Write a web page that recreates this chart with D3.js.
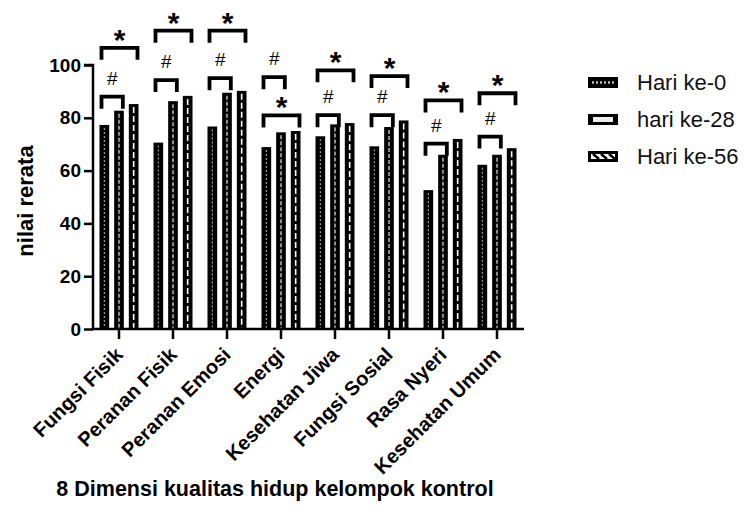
<!DOCTYPE html>
<html>
<head>
<meta charset="utf-8">
<script src="https://cdn.jsdelivr.net/npm/d3@7"></script>
<style>
  body { margin: 0; background: #fff; }
  svg { display: block; font-family: "Liberation Sans", Arial, sans-serif; }
</style>
</head>
<body>
<svg id="chart" width="746" height="524"></svg>
<script>
const categories = ["Fungsi Fisik", "Peranan Fisik", "Peranan Emosi", "Energi",
  "Kesehatan Jiwa", "Fungsi Sosial", "Rasa Nyeri", "Kesehatan Umum"];
const seriesNames = ["Hari ke-0", "hari ke-28", "Hari ke-56"];
const hari0  = [77.3, 70.6, 76.7, 68.9, 73.0, 69.2, 52.6, 62.2];
const hari28 = [82.7, 86.3, 89.5, 74.5, 77.5, 76.5, 66.0, 66.0];
const hari56 = [85.2, 88.3, 90.2, 75.0, 78.0, 79.0, 72.0, 68.5];
const yTicks = [0, 20, 40, 60, 80, 100];
// significance brackets: level (in data units) of "#" (0 vs 28) and "*" (0 vs 56)
const hashLevel = [88.0, 94.3, 95.0, 95.4, 81.0, 81.0, 70.2, 72.9];
const starLevel = [106.5, 113.0, 113.0, 80.9, 98.0, 95.8, 86.6, 89.3];
const yTitle = "nilai rerata";
const xTitle = "8 Dimensi kualitas hidup kelompok kontrol";

const svg = d3.select("#chart");
const y = d3.scaleLinear().domain([0, 100]).range([329, 65]);
const x0 = d3.scaleBand().domain(categories).range([92, 524]).padding(0);
const x1 = d3.scaleBand().domain(seriesNames).range([7.5, 46.5]).paddingInner(0.34);

const series = [hari0, hari28, hari56];

// bars
const g = svg.append("g");
categories.forEach((c, i) => {
  series.forEach((vals, s) => {
    const bx = x0(c) + x1(seriesNames[s]);
    const bw = x1.bandwidth();
    g.append("rect")
      .attr("x", bx).attr("y", y(vals[i]))
      .attr("width", bw).attr("height", y(0) - y(vals[i]))
      .attr("fill", "#000");
    const cx = bx + bw / 2;
    const dash = s === 0 ? "2,2" : (s === 1 ? "4,2" : "6,3");
    g.append("line")
      .attr("x1", cx).attr("x2", cx)
      .attr("y1", y(vals[i]) + 3).attr("y2", y(0) - 1)
      .attr("stroke", s === 0 ? "#aaa" : "#fff")
      .attr("stroke-width", s === 2 ? 1.6 : 1.1)
      .attr("stroke-dasharray", dash);
  });
});

// brackets
function bracket(i, sA, sB, level, sym) {
  const c = categories[i];
  const xa = x0(c) + x1(seriesNames[sA]) + 2;
  const xb = x0(c) + x1(seriesNames[sB]) + x1.bandwidth() - 1;
  const yt = y(level);
  svg.append("path")
    .attr("d", `M${xa},${yt + 12}V${yt}H${xb}V${yt + 12}`)
    .attr("fill", "none").attr("stroke", "#000")
    .attr("stroke-width", 3.8).attr("stroke-linejoin", "miter");
  const t = svg.append("text")
    .attr("x", (xa + xb) / 2)
    .attr("text-anchor", "middle")
    .attr("fill", "#000")
    .text(sym);
  if (sym === "*") {
    t.attr("y", yt - 15 + 17).attr("font-size", 30).attr("font-weight", "bold");
  } else {
    t.attr("y", yt - 19 + 7).attr("font-size", 19);
  }
}
categories.forEach((c, i) => {
  bracket(i, 0, 1, hashLevel[i], "#");
  bracket(i, 0, 2, starLevel[i], "*");
});

// y axis
const yAxis = svg.append("g")
  .attr("transform", "translate(93,0)")
  .call(d3.axisLeft(y).tickValues(yTicks).tickSize(9).tickPadding(3).tickFormat(d3.format("d")));
yAxis.select(".domain").attr("stroke-width", 2.5).attr("d", `M-9,${y(100)}H0V${y(0)}`);
yAxis.selectAll(".tick line").attr("stroke-width", 2.5);
yAxis.selectAll("text").attr("font-size", 19).attr("font-weight", "bold").attr("fill", "#000")
  .attr("font-family", "Liberation Sans, Arial, sans-serif");

// x axis
const xAxis = svg.append("g")
  .attr("transform", `translate(0,${y(0)})`)
  .call(d3.axisBottom(x0).tickSize(10).tickPadding(4));
xAxis.select(".domain").attr("stroke-width", 2.5).attr("d", `M92,0H524`);
xAxis.selectAll(".tick line").attr("stroke-width", 2.5);
xAxis.selectAll("text")
  .attr("font-size", 20).attr("font-weight", "bold").attr("fill", "#000")
  .attr("font-family", "Liberation Sans, Arial, sans-serif")
  .attr("text-anchor", "end")
  .attr("x", 0).attr("y", 0).attr("dy", 0)
  .attr("transform", "translate(5,27) rotate(-45)");

// axis titles
svg.append("text")
  .attr("transform", "translate(33,201) rotate(-90)")
  .attr("text-anchor", "middle")
  .attr("font-size", 22).attr("font-weight", "bold")
  .text(yTitle);
svg.append("text")
  .attr("x", 275).attr("y", 496)
  .attr("text-anchor", "middle")
  .attr("font-size", 21.5).attr("font-weight", "bold")
  .text(xTitle);

// legend
const legendY = [82, 119, 156];
seriesNames.forEach((name, s) => {
  const lg = svg.append("g").attr("transform", `translate(588,${legendY[s]})`);
  lg.append("rect").attr("x", 0).attr("y", -5).attr("width", 30).attr("height", 11).attr("fill", "#000");
  if (s === 0) {
    lg.append("line").attr("x1", 4).attr("x2", 27).attr("y1", 0.5).attr("y2", 0.5)
      .attr("stroke", "#bbb").attr("stroke-width", 2.5).attr("stroke-dasharray", "2,2");
  } else if (s === 1) {
    lg.append("rect").attr("x", 5).attr("y", -2).attr("width", 20).attr("height", 5).attr("fill", "#eee");
  } else {
    lg.append("rect").attr("x", 3).attr("y", -2).attr("width", 24).attr("height", 5).attr("fill", "#fff");
    [5, 13, 21].forEach(px => {
      lg.append("line").attr("x1", px).attr("x2", px + 6).attr("y1", -2).attr("y2", 3)
        .attr("stroke", "#000").attr("stroke-width", 2.5);
    });
  }
  lg.append("text").attr("x", 49).attr("y", 8)
    .attr("font-size", 22).attr("fill", "#111")
    .text(name);
});
</script>
</body>
</html>
